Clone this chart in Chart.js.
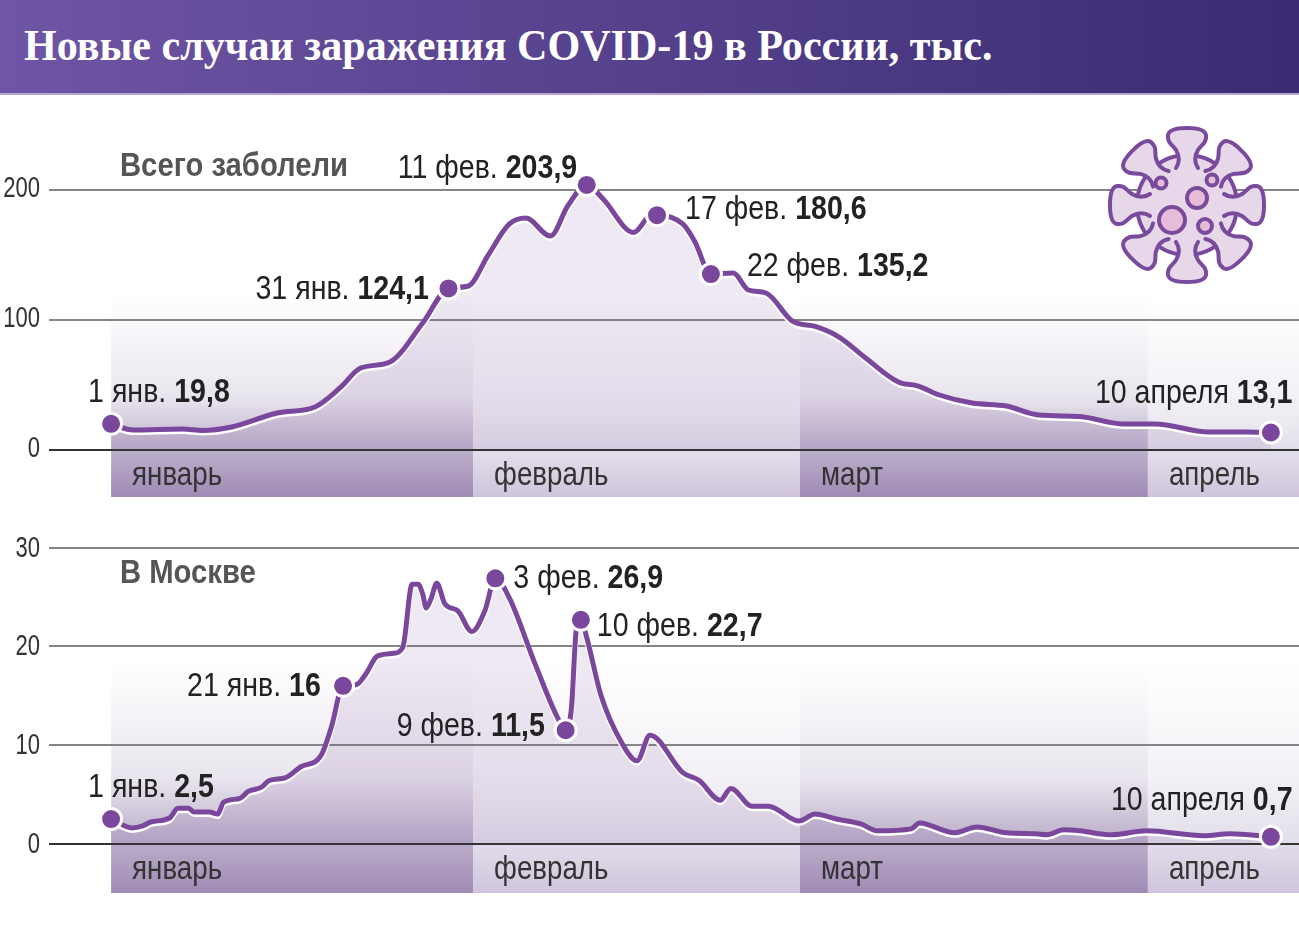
<!DOCTYPE html>
<html lang="ru">
<head>
    <meta charset="utf-8">
    <script src="https://cdnjs.cloudflare.com/ajax/libs/Chart.js/4.4.1/chart.umd.js"></script>
    <style>
        body { margin: 0; background: #fff; width: 1299px; height: 951px; overflow: hidden; position: relative; }
        #header {
            position: absolute; left: 0; top: 0; width: 1299px; height: 93px;
            background: linear-gradient(90deg, #6e55a5, #3b2b72);
            border-bottom: 2px solid #b5a6cd;
        }
        #header span {
            position: absolute; left: 24px; top: 19px; color: #fff; white-space: nowrap;
            font: bold 45px "Liberation Serif";
            transform: scaleX(0.935); transform-origin: left top;
        }
        canvas { position: absolute; left: 0; }
        #virus { position: absolute; left: 1097px; top: 115px; }
    </style>
</head>
<body>

<div id="header"><span>Новые случаи заражения COVID-19 в России, тыс.</span></div>
<canvas id="total-chart" width="1299" height="367" style="top:130px"></canvas>
<canvas id="moscow-chart" width="1299" height="363" style="top:530px"></canvas>

<svg id="virus" width="180" height="180" viewBox="-90 -90 180 180"></svg>

<script>
    const monthNames = ["январь", "февраль", "март", "апрель"];
    const monthEdges = [0, 30.9, 58.8, 88.5, 101.4]; // on the day axis, as drawn

    // Всего заболели: day since 1 Jan, thousands of cases
    const totalDays = [0, 1.9, 6.1, 7.8, 10.3, 14.2, 17.4, 19.6, 21.3, 23.8, 26.6, 28.8, 30.5, 32.2, 34, 35.4, 37.5, 39, 40.6, 42, 44.6, 46, 46.6, 48.8, 49.8, 51.2, 53.1, 54.4, 55.9, 58.2, 60.1, 62.2, 64.3, 67.2, 68.9, 70.7, 73.5, 76.4, 79.2, 82.7, 86.3, 89.1, 93.7, 96.8, 99];
    const totalCases = [19.8, 15, 15.8, 14.6, 17.3, 28.1, 32.8, 48, 62.8, 67.4, 97.5, 124.1, 126, 150, 173.8, 178.4, 164.5, 188, 203.9, 193, 167.2, 180, 180.6, 173.8, 160.7, 135.2, 136, 122.9, 120.6, 98.7, 94.8, 86.3, 71.3, 52, 48.9, 42, 35.8, 33.5, 26.6, 25.4, 19.7, 19.7, 13.5, 13.5, 13.1];
    const totalTicks = [0, 100, 200];
    const totalMarkDays = [0, 28.8, 40.6, 46.6, 51.2, 99];
    const totalMarkCases = [19.8, 124.1, 203.9, 180.6, 135.2, 13.1];
    const totalMarkDates = ["1 янв. ", "31 янв. ", "11 фев. ", "17 фев. ", "22 фев. ", "10 апреля "];
    const totalNoteDx = [-23, -193, -189, 28, 36, -176];
    const totalNoteDy = [-22, 11, -7, 4, 2, -30];

    // В Москве
    const moscowDays = [0, 1.8, 2.7, 3.4, 5, 5.7, 6.6, 7.1, 8.4, 9.1, 9.6, 11, 11.7, 12.8, 13.5, 14.9, 16.2, 17.9, 18.8, 19.8, 20.9, 21.8, 22.7, 24.1, 24.9, 25.7, 26.2, 26.6, 26.9, 27.3, 27.8, 28.5, 29.6, 30.8, 31.9, 32.8, 34, 36.2, 38.1, 38.8, 39.3, 39.7, 40.1, 40.6, 41.8, 43.6, 44.9, 46, 48.8, 50.2, 52, 52.9, 54.7, 56.1, 58.7, 60.1, 61.9, 64, 65.4, 68.3, 69, 72, 73.9, 76.4, 78.9, 79.9, 81.3, 82.7, 85.4, 88.4, 93.3, 95.5, 99];
    const moscowCases = [2.5, 1.6, 1.8, 2.2, 2.6, 3.6, 3.6, 3.2, 3.2, 3, 4.2, 4.6, 5.3, 5.7, 6.4, 6.7, 7.8, 8.9, 11.8, 16, 16.1, 17.3, 19, 19.3, 19.9, 26.3, 26.3, 25.3, 23.9, 24.8, 26.4, 24.3, 23.6, 21.5, 23.6, 26.9, 24.9, 18.2, 12.8, 11.5, 13.8, 21.6, 22.7, 20.9, 15.1, 10.2, 8.4, 11, 7.2, 6.4, 4.4, 5.6, 3.8, 3.8, 2.3, 3, 2.5, 2, 1.3, 1.5, 2.1, 1.1, 1.7, 1.1, 1, 0.9, 1.4, 1.3, 0.9, 1.3, 0.8, 1, 0.7];
    const moscowTicks = [0, 10, 20, 30];
    const moscowMarkDays = [0, 19.8, 32.8, 38.8, 40.1, 99];
    const moscowMarkCases = [2.5, 16, 26.9, 11.5, 22.7, 0.7];
    const moscowMarkDates = ["1 янв. ", "21 янв. ", "3 фев. ", "9 фев. ", "10 фев. ", "10 апреля "];
    const moscowNoteDx = [-23, -156, 18, -169, 16, -160];
    const moscowNoteDy = [-22, 10, 10, 6, 16, -27];

    const SANS = '"Liberation Sans"';
    const PURPLE = "#7b479d";

    function pairs(xs, ys) {
        return xs.map((x, i) => ({x: x, y: ys[i]}));
    }

    // no condensed face is installed, so squeeze Liberation Sans sideways
    function narrowText(ctx, text, x, y, font, sx, align) {
        ctx.save();
        ctx.font = font;
        ctx.textAlign = align || "left";
        ctx.textBaseline = "alphabetic";
        ctx.translate(x, y);
        ctx.scale(sx, 1);
        ctx.fillText(text, 0, 0);
        const w = ctx.measureText(text).width * sx;
        ctx.restore();
        return w;
    }

    function makeChart(id, cfg) {
        const decor = {
            id: "decor",
            // month columns go under the grid lines
            beforeDraw(chart) {
                const {ctx, chartArea, scales} = chart;
                const fadeTop = chartArea.bottom - cfg.fade;
                monthNames.forEach((name, i) => {
                    const x0 = scales.x.getPixelForValue(monthEdges[i]);
                    const x1 = scales.x.getPixelForValue(monthEdges[i + 1]);
                    const g = ctx.createLinearGradient(0, fadeTop, 0, chartArea.bottom);
                    g.addColorStop(0, "#ffffff");
                    if (i % 2 == 0) {
                        g.addColorStop(0.5, "#e9e5ee");
                        g.addColorStop(0.76, "#bdb1cb");
                        g.addColorStop(1, "#9f8ab5");
                    } else {
                        g.addColorStop(0.5, "#f3f1f6");
                        g.addColorStop(0.76, "#e4e0eb");
                        g.addColorStop(1, "#cfc4dc");
                    }
                    ctx.fillStyle = g;
                    ctx.fillRect(x0, fadeTop, x1 - x0, chartArea.bottom - fadeTop);
                });
            },
            // the white edge sits mostly under the purple line
            beforeDatasetDraw(chart, args) {
                if (args.index == 0) {
                    chart.ctx.save();
                    chart.ctx.translate(0, 2);
                }
            },
            afterDatasetDraw(chart, args) {
                if (args.index == 0) chart.ctx.restore();
            },
            afterDraw(chart) {
                const {ctx, scales} = chart;
                ctx.save();
                ctx.fillStyle = "#333";
                scales.y.ticks.forEach(t => {
                    narrowText(ctx, String(t.value), 40, scales.y.getPixelForValue(t.value) + cfg.tickDy, "29px " + SANS, 0.76, "right");
                });
                monthNames.forEach((name, i) => {
                    narrowText(ctx, name, scales.x.getPixelForValue(monthEdges[i]) + 21, scales.y.getPixelForValue(0) + 35, "33px " + SANS, 0.84);
                });
                ctx.fillStyle = "#555";
                narrowText(ctx, cfg.title, 120, cfg.titleY, "bold 34px " + SANS, 0.86);
                cfg.markDays.forEach((d, i) => {
                    const px = scales.x.getPixelForValue(d) + cfg.dx[i];
                    const py = scales.y.getPixelForValue(cfg.markCases[i]) + cfg.dy[i];
                    const val = String(cfg.markCases[i]).replace(".", ",");
                    ctx.fillStyle = "#222";
                    const w = narrowText(ctx, cfg.dates[i], px, py, "34px " + SANS, 0.84);
                    narrowText(ctx, val, px + w, py, "bold 34px " + SANS, 0.84);
                });
                ctx.restore();
            }
        };

        return new Chart(document.getElementById(id), {
            type: "line",
            data: {
                datasets: [
                    {
                        order: 3,
                        data: pairs(cfg.days, cfg.cases),
                        borderColor: "#fff",
                        borderWidth: 6,
                        backgroundColor: "rgba(126,72,158,0.12)",
                        fill: {value: 0},
                        pointRadius: 0,
                        cubicInterpolationMode: "monotone"
                    },
                    {
                        order: 2,
                        data: pairs(cfg.days, cfg.cases),
                        borderColor: PURPLE,
                        borderWidth: 5,
                        fill: false,
                        pointRadius: 0,
                        cubicInterpolationMode: "monotone"
                    },
                    {
                        order: 1,
                        data: pairs(cfg.markDays, cfg.markCases),
                        showLine: false,
                        pointRadius: 10.5,
                        pointBorderWidth: 3,
                        pointBackgroundColor: PURPLE,
                        pointBorderColor: "#fff"
                    }
                ]
            },
            options: {
                responsive: false,
                animation: false,
                layout: {padding: 0, autoPadding: false},
                plugins: {legend: {display: false}, tooltip: {enabled: false}},
                scales: {
                    x: {type: "linear", display: false, min: -5.3, max: 101.4},
                    y: {
                        min: cfg.min,
                        max: cfg.max,
                        afterBuildTicks: scale => { scale.ticks = cfg.ticks.map(v => ({value: v})); },
                        afterFit: scale => { scale.width = 49; },
                        border: {display: false},
                        grid: {
                            drawTicks: false,
                            lineWidth: 2,
                            color: c => c.tick.value == 0 ? "#333" : "#858585"
                        },
                        ticks: {display: false}
                    }
                }
            },
            plugins: [decor]
        });
    }

    makeChart("total-chart", {
        days: totalDays, cases: totalCases, ticks: totalTicks,
        markDays: totalMarkDays, markCases: totalMarkCases, dates: totalMarkDates,
        dx: totalNoteDx, dy: totalNoteDy,
        min: -36.6, max: 246.2, fade: 200, tickDy: 7,
        title: "Всего заболели", titleY: 46
    });

    makeChart("moscow-chart", {
        days: moscowDays, cases: moscowCases, ticks: moscowTicks,
        markDays: moscowMarkDays, markCases: moscowMarkCases, dates: moscowMarkDates,
        dx: moscowNoteDx, dy: moscowNoteDy,
        min: -5.0, max: 31.8, fade: 230, tickDy: 9,
        title: "В Москве", titleY: 53
    });

    // virus icon: body, then eight spikes whose open base hides the outline
    const SPIKE = "M-11,-37 C-7,-43 -8,-50 -11,-55 C-14,-60 -20,-62 -19,-70 C-18,-76 -9,-77 0,-77 C9,-77 18,-76 19,-70 C20,-62 14,-60 11,-55 C8,-50 7,-43 11,-37";
    const blobs = [[-15, 15, 13], [10, -7, 10], [18, 21, 7], [-26, -22, 5.5], [25, -25, 5.5]];
    let svg = '<g stroke="#7a4a9c" stroke-width="4" fill="#e6d8e8" stroke-linecap="round">';
    svg += '<circle r="50"/>';
    for (let a = 0; a < 360; a += 45) {
        svg += '<path d="' + SPIKE + '" transform="rotate(' + a + ')"/>';
    }
    blobs.forEach(b => {
        svg += '<circle cx="' + b[0] + '" cy="' + b[1] + '" r="' + b[2] + '" fill="#e6bcd8"/>';
    });
    svg += '</g>';
    document.getElementById("virus").innerHTML = svg;
</script>

</body>
</html>
